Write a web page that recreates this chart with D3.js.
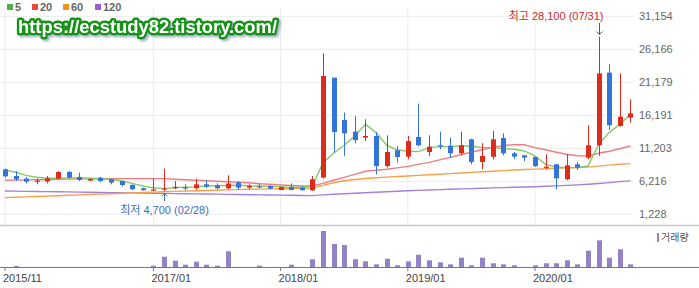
<!DOCTYPE html>
<html>
<head>
<meta charset="utf-8">
<script src="https://cdn.jsdelivr.net/npm/d3@7"></script>
<style>
body { margin: 0; background: #fff; }
svg { display: block; font-family: "Liberation Sans", Arial, "Noto Sans CJK KR", sans-serif; }
</style>
</head>
<body>
<svg id="chart"></svg>
<script>
// monthly candles, 2015/11 .. 2020/10
let months = ["2015/11","2015/12",
    "2016/01","2016/02","2016/03","2016/04","2016/05","2016/06","2016/07","2016/08","2016/09","2016/10","2016/11","2016/12",
    "2017/01","2017/02","2017/03","2017/04","2017/05","2017/06","2017/07","2017/08","2017/09","2017/10","2017/11","2017/12",
    "2018/01","2018/02","2018/03","2018/04","2018/05","2018/06","2018/07","2018/08","2018/09","2018/10","2018/11","2018/12",
    "2019/01","2019/02","2019/03","2019/04","2019/05","2019/06","2019/07","2019/08","2019/09","2019/10","2019/11","2019/12",
    "2020/01","2020/02","2020/03","2020/04","2020/05","2020/06","2020/07","2020/08","2020/09","2020/10"];
let open  = [8030,7020,6620,6260,6200,6620,7620,6860,6320,6770,6520,6260,5660,5160,4860,4980,5180,5300,5160,5760,5610,5160,6020,5260,5460,5510,4900,5360,5260,4860,
             6770,21880,15480,13720,12820,13060,8520,10900,9940,12910,10640,11660,11600,10450,12560,9140,9920,12760,10450,10150,9890,8280,8780,6520,8780,9790,11660,22640,14580,15840];
let high  = [8130,7770,6870,6620,7020,7770,7770,7530,6620,6870,6620,6320,5760,5260,6620,8130,6260,5760,6620,6400,5910,7120,6260,5760,5910,5610,5410,5910,5460,7020,
             25560,21880,16600,16090,15590,13670,13160,11550,13060,17960,13160,13720,12820,13670,12660,11980,13820,13470,10640,10150,9890,10300,8780,10300,9140,14680,28100,23900,22530,18600];
let low   = [6770,6260,5870,5760,5910,6520,6620,6260,6300,6090,5760,5410,4860,4810,4760,4700,5010,4810,4960,5180,5010,5010,4900,5010,5160,5010,4860,4860,4810,4760,
             6620,10550,10050,11960,12300,7270,8280,9040,9540,11500,10050,11050,9700,10150,8780,8030,9540,10150,9540,9240,8380,8030,5010,6370,7920,9540,10050,13970,14480,15090];
let close = [6970,6520,6170,6320,6670,7620,6770,6410,6550,6260,6020,5660,5010,4860,4980,5150,5380,5250,5760,5410,5160,5870,5260,5510,5400,5110,5360,4900,4860,6520,
             22130,13670,13470,12450,13060,8520,10640,9890,12300,11660,11450,11460,10450,11660,9140,10040,12560,10450,9940,9790,8520,8430,6670,8630,8280,11660,22530,14680,15990,16490];
// volume, thousand shares
let volume = [0,10,0,0,0,0,0,0,0,0,0,0,0,0,13,103,63,23,53,23,13,157,0,0,13,0,0,23,0,77,
              360,230,220,77,57,27,83,17,57,123,67,47,27,93,17,93,37,27,17,0,17,37,37,67,27,163,267,93,177,27];
// moving averages
let ma5   = [7920,7580,7120,6820,6670,6670,6740,6740,6670,6590,6520,6260,5910,5500,5230,5110,5260,5310,5380,5500,5540,5570,5610,5540,5460,5460,5380,5310,5310,5500,
             9040,10450,11660,13060,14830,13580,11660,10950,10800,10700,11310,11460,11460,11550,11550,11310,11310,11160,11050,10800,10040,8780,8380,8290,8290,8530,11810,13580,14830,16340];
let ma20  = [6370,6400,6430,6460,6490,6520,6550,6580,6590,6600,6610,6620,6620,6620,6620,6620,6520,6440,6370,6290,6220,6140,6070,5990,5840,5760,5660,5570,5510,5510,
             5910,6370,6820,7270,7730,7880,8030,8250,8480,8780,9080,9460,9840,10220,10600,10980,11350,11580,11760,11730,11310,10980,10600,10300,10070,10040,10450,10750,11130,11550];
let ma60  = [3750,3800,3860,3920,3980,4040,4100,4160,4220,4280,4340,4400,4460,4520,4580,4640,4690,4730,4780,4830,4870,4920,4960,5010,5040,5070,5100,5130,5160,5190,
             5610,5990,6290,6490,6640,6750,6850,6940,7020,7110,7200,7290,7380,7470,7560,7650,7740,7830,7920,8000,8060,8120,8180,8240,8300,8360,8510,8660,8790,8890];
let ma120 = [4750,4730,4700,4680,4650,4630,4610,4580,4560,4530,4510,4480,4460,4440,4410,4390,4360,4340,4310,4290,4270,4240,4220,4190,4170,4150,4120,4100,4070,4050,
             4160,4250,4340,4420,4490,4570,4640,4720,4780,4840,4900,4960,5010,5070,5110,5160,5220,5260,5310,5350,5400,5460,5520,5600,5670,5760,5880,6020,6160,6280];

let yTicks = [1228, 6216, 11203, 16191, 21179, 26166, 31154];
let xTickLabels = ["2015/11", "2017/01", "2018/01", "2019/01", "2020/01"];
let maNames = ["5", "20", "60", "120"];

let width = 699;
let height = 288;
let red = "#dd2c1c";
let blue = "#3374d8";
let maColors = ["#86c86a", "#f07c80", "#f6a04c", "#a77fdc"];
let legendColors = ["#4eb04a", "#e94a3f", "#f6901e", "#9b5fd2"];

let svg = d3.select("#chart").attr("width", width).attr("height", height);

let x = d3.scaleBand().domain(months).range([-0.3, 635.7]);
let cx = m => x(m) + x.bandwidth() / 2;
let y = d3.scaleLinear().domain([1228, 31154]).range([214.3, 16.3]);
let yv = d3.scaleLinear().domain([0, 370]).range([267, 230]);

// shadow for the watermark
let shadow = svg.append("defs").append("filter").attr("id", "wmShadow")
    .attr("x", "-5%").attr("y", "-40%").attr("width", "115%").attr("height", "190%");
shadow.append("feDropShadow").attr("dx", 2).attr("dy", 2).attr("stdDeviation", 1)
    .attr("flood-color", "#9fb0c6").attr("flood-opacity", 0.9);

// grid
svg.append("g").selectAll("line").data(yTicks).enter().append("line")
    .attr("x1", 0).attr("x2", 633)
    .attr("y1", d => y(d)).attr("y2", d => y(d))
    .attr("stroke", "#ebebeb");
svg.append("g").selectAll("line").data(xTickLabels).enter().append("line")
    .attr("x1", d => cx(d)).attr("x2", d => cx(d))
    .attr("y1", 8).attr("y2", 225)
    .attr("stroke", "#ebebeb");

// panel separator
svg.append("line").attr("x1", 0).attr("x2", width).attr("y1", 225.5).attr("y2", 225.5)
    .attr("stroke", "#c9c9c9").attr("stroke-width", 1.5);

// right axis
let yAxis = svg.append("g")
    .attr("transform", "translate(639,0)")
    .call(d3.axisRight(y).tickValues(yTicks).tickSize(0).tickPadding(0).tickFormat(d3.format(",")));
yAxis.select(".domain").remove();
yAxis.selectAll("text").attr("fill", "#666").style("font-size", "11px");

// moving averages
let maSeries = [ma120, ma60, ma20, ma5];
let maSeriesColors = [maColors[3], maColors[2], maColors[1], maColors[0]];
maSeries.forEach((s, k) => {
    let line = d3.line().x((d, i) => cx(months[i])).y(d => y(d));
    svg.append("path").datum(s)
        .attr("d", line)
        .attr("fill", "none")
        .attr("stroke", maSeriesColors[k])
        .attr("stroke-width", 1.4);
});

// candles
let candles = svg.append("g").selectAll("g").data(months).enter().append("g");
candles.append("line")
    .attr("x1", d => Math.round(cx(d)) + 0.5).attr("x2", d => Math.round(cx(d)) + 0.5)
    .attr("y1", (d, i) => y(high[i])).attr("y2", (d, i) => y(low[i]))
    .attr("stroke", (d, i) => close[i] >= open[i] ? red : blue);
candles.append("rect")
    .attr("x", d => Math.round(cx(d)) - 2)
    .attr("width", 5)
    .attr("y", (d, i) => y(Math.max(open[i], close[i])))
    .attr("height", (d, i) => Math.max(1.2, Math.abs(y(open[i]) - y(close[i]))))
    .attr("fill", (d, i) => close[i] >= open[i] ? red : blue);

// volume
svg.append("g").selectAll("rect").data(months).enter().append("rect")
    .attr("x", d => Math.round(cx(d)) - 2)
    .attr("width", 5)
    .attr("y", (d, i) => yv(volume[i]))
    .attr("height", (d, i) => 267 - yv(volume[i]))
    .attr("fill", "#9482c9");

let xAxis = svg.append("g")
    .attr("transform", "translate(0,267)")
    .call(d3.axisBottom(x).tickValues(xTickLabels).tickSize(4).tickPadding(3));
xAxis.select(".domain").remove();
xAxis.selectAll("line").attr("stroke", "#777");
xAxis.selectAll("text").attr("text-anchor", "start").attr("x", -2)
    .attr("fill", "#444").style("font-size", "11px");
svg.append("line").attr("x1", 0).attr("x2", width).attr("y1", 267.5).attr("y2", 267.5)
    .attr("stroke", "#777");

// volume legend
svg.append("rect").attr("x", 657).attr("y", 233).attr("width", 2).attr("height", 9).attr("fill", "#9482c9");
svg.append("text").attr("x", 661).attr("y", 241).text("거래량")
    .attr("fill", "#555").style("font-size", "10px");

// MA legend
let legendX = [7, 32, 63, 95];
maNames.forEach((n, k) => {
    svg.append("rect").attr("x", legendX[k]).attr("y", 4).attr("width", 6).attr("height", 6)
        .attr("fill", legendColors[k]);
    svg.append("text").attr("x", legendX[k] + 8).attr("y", 10.5).text(n)
        .attr("fill", "#666").style("font-size", "11px").style("font-weight", "bold");
});

// high / low annotations
let hiIdx = high.indexOf(d3.max(high));
let loIdx = low.indexOf(d3.min(low));
let hx = Math.round(cx(months[hiIdx])) + 0.5;
let lx = Math.round(cx(months[loIdx])) + 0.5;
svg.append("text").attr("x", hx + 4).attr("y", 20).attr("text-anchor", "end")
    .text("최고 " + d3.format(",")(high[hiIdx]) + " (07/31)")
    .attr("fill", "#cc2a2a").style("font-size", "11px");
svg.append("path").attr("d", `M${hx},23V${y(high[hiIdx]) - 2}M${hx - 3},${y(high[hiIdx]) - 5}L${hx},${y(high[hiIdx]) - 2}L${hx + 3},${y(high[hiIdx]) - 5}`)
    .attr("fill", "none").attr("stroke", "#cc2a2a");
svg.append("text").attr("x", lx).attr("y", 214).attr("text-anchor", "middle")
    .text("최저 " + d3.format(",")(low[loIdx]) + " (02/28)")
    .attr("fill", "#3b6fc0").style("font-size", "11px");
svg.append("path").attr("d", `M${lx},201V${y(low[loIdx]) + 2}M${lx - 3},${y(low[loIdx]) + 5}L${lx},${y(low[loIdx]) + 2}L${lx + 3},${y(low[loIdx]) + 5}`)
    .attr("fill", "none").attr("stroke", "#3b6fc0");

// watermark
svg.append("text").attr("x", 18).attr("y", 33).text("https://ecstudy82.tistory.com/")
    .attr("textLength", 259).attr("lengthAdjust", "spacingAndGlyphs")
    .style("font-size", "19px").style("font-weight", "bold")
    .attr("fill", "#fff").attr("stroke", "#159315").attr("stroke-width", 5)
    .attr("stroke-linejoin", "round").style("paint-order", "stroke")
    .attr("filter", "url(#wmShadow)");
</script>
</body>
</html>
